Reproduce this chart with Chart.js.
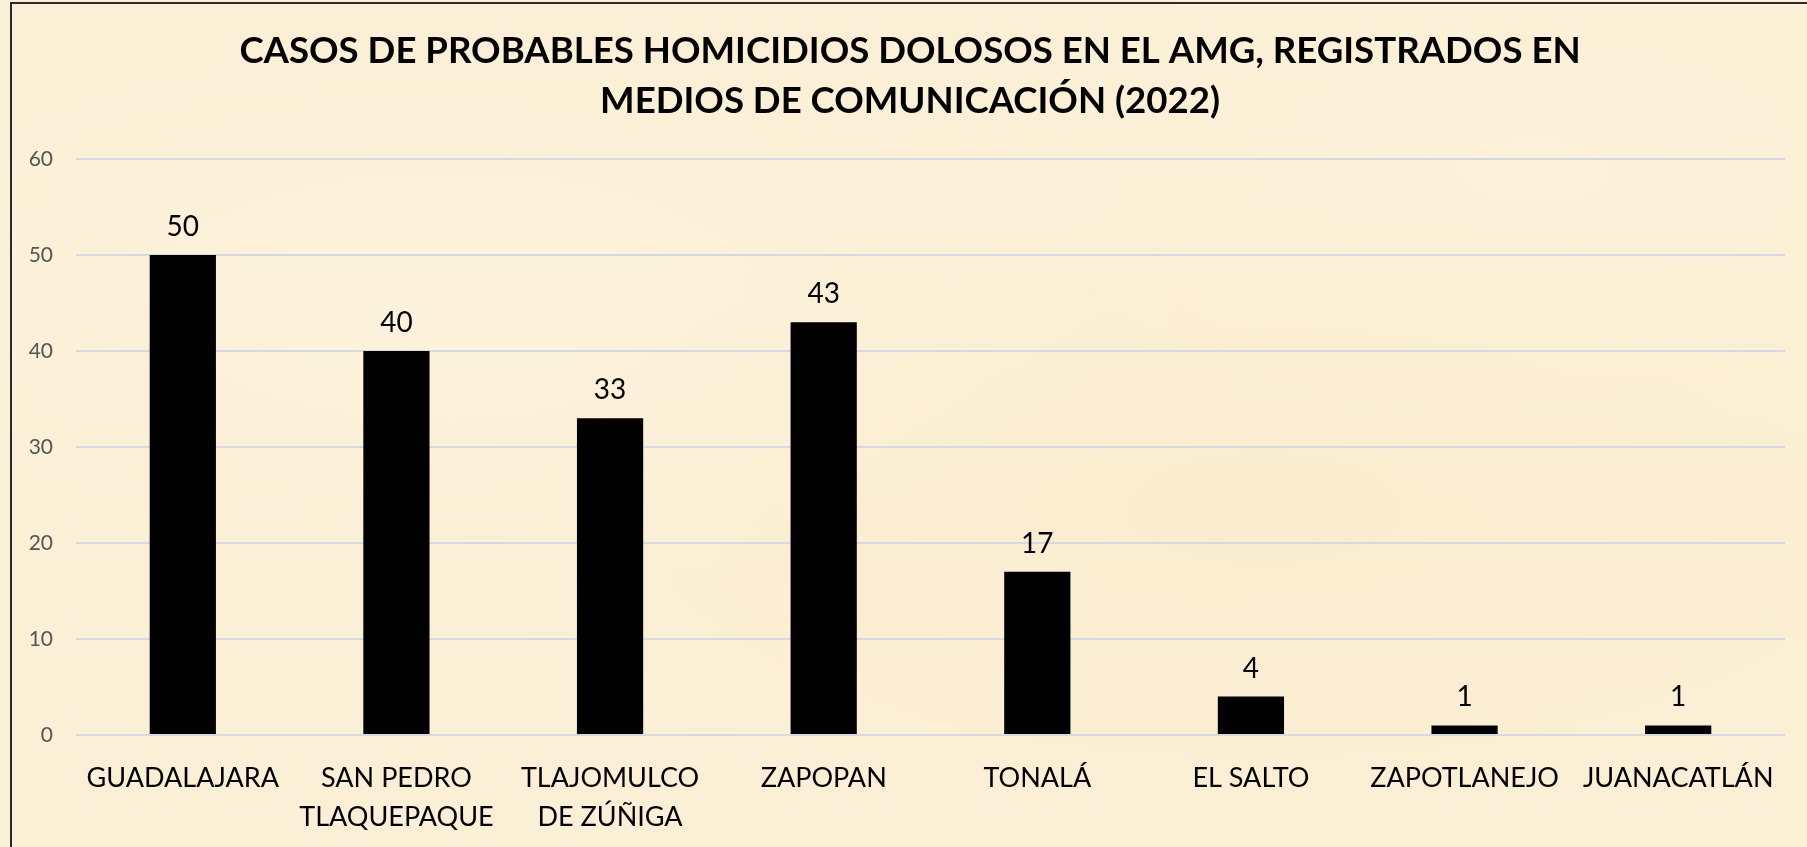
<!DOCTYPE html>
<html>
<head>
<meta charset="utf-8">
<script src="https://cdn.jsdelivr.net/npm/chart.js@4.4.1/dist/chart.umd.min.js"></script>
<style>
  html, body { margin: 0; padding: 0; }
  body {
    width: 1807px; height: 847px; overflow: hidden; position: relative;
    background-color: #fbefd5;
    background-image:
      radial-gradient(ellipse at 25% 35%, rgba(255,246,225,0.45), rgba(255,246,225,0) 40%),
      radial-gradient(ellipse at 70% 60%, rgba(246,228,190,0.3), rgba(246,228,190,0) 45%),
      radial-gradient(ellipse at 85% 20%, rgba(255,245,222,0.4), rgba(255,245,222,0) 35%);
  }
  #frame {
    position: absolute; left: 10px; top: 2px; width: 1820px; height: 870px;
    border-left: 2px solid #2a2a2a; border-top: 2px solid #2a2a2a;
  }
  #myBarChart { position: absolute; left: 0; top: 0; }
</style>
</head>
<body>
<div id="frame"></div>
<canvas id="myBarChart" width="1807" height="847"></canvas>
<script>
  const categories = [
    'GUADALAJARA',
    ['SAN PEDRO', 'TLAQUEPAQUE'],
    ['TLAJOMULCO', 'DE ZÚÑIGA'],
    'ZAPOPAN',
    'TONALÁ',
    'EL SALTO',
    'ZAPOTLANEJO',
    'JUANACATLÁN'
  ];
  const casos = [50, 40, 33, 43, 17, 4, 1, 1];
  const yTicks = [0, 10, 20, 30, 40, 50, 60];

  const titleLines = [
    'CASOS DE PROBABLES HOMICIDIOS DOLOSOS EN EL AMG, REGISTRADOS EN',
    'MEDIOS DE COMUNICACIÓN (2022)'
  ];

  // titulo dibujado a mano, un poco corrido a la derecha como en el original
  const chartTitle = {
    id: 'chartTitle',
    afterDraw(chart) {
      const ctx = chart.ctx;
      ctx.save();
      ctx.font = 'bold 36.6px Lato';
      ctx.fillStyle = '#000';
      ctx.textAlign = 'center';
      ctx.textBaseline = 'middle';
      titleLines.forEach((line, i) => {
        ctx.fillText(line, 910, 51 + i * 50);
      });
      ctx.restore();
    }
  };

  // etiquetas de valor encima de cada barra
  const valueLabels = {
    id: 'valueLabels',
    afterDatasetsDraw(chart) {
      const ctx = chart.ctx;
      const meta = chart.getDatasetMeta(0);
      ctx.save();
      ctx.font = '28px Lato';
      ctx.fillStyle = '#000';
      ctx.textAlign = 'center';
      ctx.textBaseline = 'middle';
      meta.data.forEach((bar, i) => {
        ctx.fillText(chart.data.datasets[0].data[i], bar.x, bar.y - 28);
      });
      ctx.restore();
    }
  };

  const barData = {
    labels: categories,
    datasets: [
      {
        label: 'Casos',
        data: casos,
        backgroundColor: '#000000',
        borderWidth: 0,
        categoryPercentage: 1,
        barPercentage: 0.31
      }
    ]
  };

  const barConfig = {
    type: 'bar',
    data: barData,
    options: {
      responsive: false,
      animation: false,
      layout: {
        padding: { left: 12, right: 22, top: 159, bottom: 0 }
      },
      scales: {
        x: {
          afterFit(scale) { scale.height = 112; },
          grid: { display: false, drawTicks: false },
          border: { display: false },
          ticks: {
            color: '#000',
            padding: 24,
            maxRotation: 0,
            autoSkip: false,
            font: { family: 'Lato', size: 27, lineHeight: '39px' }
          }
        },
        y: {
          min: 0,
          max: 60,
          afterFit(scale) { scale.width = 64; },
          afterBuildTicks(scale) { scale.ticks = yTicks.map(v => ({ value: v })); },
          grid: { color: '#d6d9e4', lineWidth: 2, drawTicks: false },
          border: { display: false },
          ticks: {
            color: '#555555',
            padding: 23,
            font: { family: 'Lato', size: 21 }
          }
        }
      },
      plugins: {
        legend: { display: false },
        tooltip: { enabled: false },
        title: { display: false }
      }
    },
    plugins: [valueLabels, chartTitle]
  };

  document.fonts.load('bold 37px Lato').then(() => document.fonts.load('26px Lato')).then(() => {
    const myBarChart = new Chart(
      document.getElementById('myBarChart'),
      barConfig
    );
  });
</script>
</body>
</html>
